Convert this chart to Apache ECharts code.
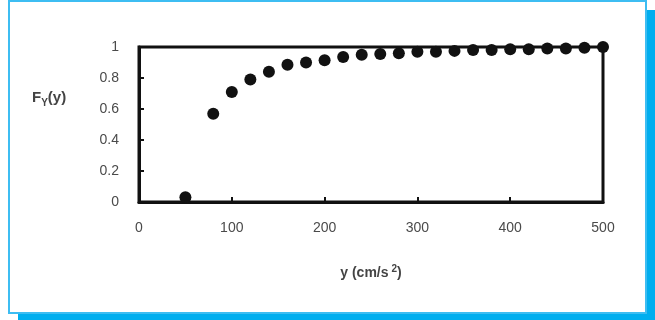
<!DOCTYPE html>
<html>
<head>
<meta charset="utf-8">
<script src="https://cdn.jsdelivr.net/npm/echarts@6/dist/echarts.min.js"></script>
<style>html,body{margin:0;padding:0;background:#fff}#c{width:655px;height:320px}</style>
</head>
<body>
<div id="c"></div>
<script>
var xValues = [50, 80, 100, 120, 140, 160, 180, 200, 220, 240, 260, 280, 300, 320, 340, 360, 380, 400, 420, 440, 460, 480, 500];
var fyValues = [0.03, 0.57, 0.71, 0.79, 0.84, 0.885, 0.9, 0.915, 0.935, 0.95, 0.955, 0.96, 0.97, 0.97, 0.975, 0.98, 0.98, 0.985, 0.985, 0.99, 0.99, 0.995, 1.0];
var xTicks = [0, 100, 200, 300, 400, 500];
var yTicks = [0, 0.2, 0.4, 0.6, 0.8, 1];

var chart = echarts.init(document.getElementById('c'), null, {renderer: 'canvas'});
var points = xValues.map(function (x, i) { return [x, fyValues[i]]; });
var font = 'Liberation Sans, Arial, sans-serif';
var frameBlue = '#00AEEF';

chart.setOption({
  animation: false,
  backgroundColor: '#fff',
  grid: {left: 139, right: 52, top: 47, bottom: 118, show: true, borderColor: '#111', borderWidth: 3, backgroundColor: 'transparent'},
  xAxis: {
    type: 'value', min: xTicks[0], max: xTicks[xTicks.length - 1], interval: 100,
    axisLine: {show: true, lineStyle: {color: '#111', width: 3}},
    axisTick: {show: true, inside: true, length: 5, lineStyle: {color: '#111', width: 2}},
    splitLine: {show: false},
    axisLabel: {color: '#4a4a4a', fontFamily: font, fontSize: 14, margin: 19},
    name: 'y (cm/s{sup|2})',
    nameLocation: 'middle', nameGap: 62,
    nameTextStyle: {color: '#444', fontFamily: font, fontSize: 14, fontWeight: 'bold',
      rich: {sup: {fontSize: 10, fontWeight: 'bold', color: '#444', fontFamily: font, padding: [0, 0, 9, 3]}}}
  },
  yAxis: {
    type: 'value', min: yTicks[0], max: yTicks[yTicks.length - 1], interval: 0.2,
    axisLine: {show: true, lineStyle: {color: '#111', width: 3}},
    axisTick: {show: true, inside: true, length: 5, lineStyle: {color: '#111', width: 2}},
    splitLine: {show: false},
    axisLabel: {color: '#4a4a4a', fontFamily: font, fontSize: 14, margin: 20}
  },
  graphic: [
    {type: 'rect', shape: {x: 647, y: 10, width: 8, height: 310}, style: {fill: frameBlue}, silent: true},
    {type: 'rect', shape: {x: 18, y: 314, width: 637, height: 6}, style: {fill: frameBlue}, silent: true},
    {type: 'rect', shape: {x: 9, y: 1, width: 637, height: 312}, style: {fill: 'transparent', stroke: '#3DBDF2', lineWidth: 2}, silent: true},
    {type: 'text', left: 32, top: 90, silent: true,
      style: {text: '{a|F}{b|Y}{a|(y)}', fill: '#444', font: '14px ' + font,
        rich: {a: {fontSize: 15, fontFamily: font, fill: '#444', fontWeight: 'bold'},
               b: {fontSize: 10, fontFamily: font, fill: '#444', fontWeight: 'bold', padding: [12, 0, 0, 0]}}}}
  ],
  series: [{
    type: 'scatter', data: points, symbol: 'circle', symbolSize: 12,
    itemStyle: {color: '#111', opacity: 1}, clip: false
  }]
});
</script>
</body>
</html>
